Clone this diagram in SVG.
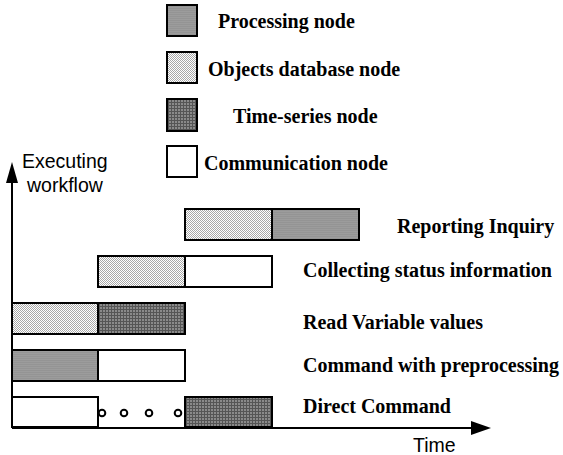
<svg xmlns="http://www.w3.org/2000/svg" width="563" height="455" viewBox="0 0 563 455">
<style>
.box{stroke:#000;stroke-width:2}
.proc{fill:url(#pProc)}
.odb{fill:url(#pOdb)}
.ts{fill:url(#pTs)}
.comm{fill:#fff}
.lbl{font-family:"Liberation Serif","Times New Roman",serif;font-weight:bold;font-size:20px;fill:#000}
.ax{font-family:"Liberation Sans",Arial,sans-serif;font-size:19.5px;fill:#000}
.axis{stroke:#000;stroke-width:2;fill:none}
.dot{fill:#fff;stroke:#000;stroke-width:2}
</style>
<defs>
<pattern id="pProc" width="2" height="2" patternUnits="userSpaceOnUse">
<rect width="2" height="2" fill="#9c9c9c"/>
<rect width="2" height="1" fill="#949494"/>
</pattern>
<pattern id="pOdb" width="2" height="2" patternUnits="userSpaceOnUse">
<rect width="2" height="2" fill="#ffffff"/>
<rect width="1" height="1" fill="#a8a8a8"/>
<rect x="1" y="1" width="1" height="1" fill="#a8a8a8"/>
</pattern>
<pattern id="pTs" width="3" height="3" patternUnits="userSpaceOnUse">
<rect width="3" height="3" fill="#8a8a8a"/>
<rect width="3" height="1" fill="#555"/>
<rect width="1" height="3" fill="#555"/>
</pattern>
</defs>

<g id="legend">
<g id="legend-processing"><rect class="box proc" x="167" y="5" width="30" height="31"/><text class="lbl" x="218" y="28">Processing node</text></g>
<g id="legend-objects"><rect class="box odb" x="167" y="52" width="30" height="31"/><text class="lbl" x="208" y="76">Objects database node</text></g>
<g id="legend-timeseries"><rect class="box ts" x="167" y="99" width="30" height="32"/><text class="lbl" x="233" y="123">Time-series node</text></g>
<g id="legend-communication"><rect class="box comm" x="167" y="146" width="30" height="31"/><text class="lbl" x="204" y="170">Communication node</text></g>
</g>

<g id="connectors">
<path class="axis" d="M12,428 V182"/>
<path d="M6,183 L12,162 L18,183 Z" fill="#000"/>
<path class="axis" d="M12,428 H472"/>
<path d="M471,421 L491,428 L471,435 Z" fill="#000"/>
</g>

<g id="axis-labels">
<text class="ax" x="22" y="168">Executing</text>
<text class="ax" x="27" y="192">workflow</text>
<text class="ax" x="413" y="452">Time</text>
</g>

<g id="row-reporting">
<rect class="box odb" x="185" y="209" width="87" height="31"/>
<rect class="box proc" x="272" y="209" width="87" height="31"/>
<text class="lbl" x="397" y="233">Reporting Inquiry</text>
</g>
<g id="row-collecting">
<rect class="box odb" x="98" y="256" width="87" height="31"/>
<rect class="box comm" x="185" y="256" width="87" height="31"/>
<text class="lbl" x="303" y="277">Collecting status information</text>
</g>
<g id="row-read">
<rect class="box odb" x="12" y="303" width="86" height="31"/>
<rect class="box ts" x="98" y="303" width="87" height="31"/>
<text class="lbl" x="303" y="329">Read Variable values</text>
</g>
<g id="row-command-pre">
<rect class="box proc" x="12" y="350" width="86" height="31"/>
<rect class="box comm" x="98" y="350" width="87" height="31"/>
<text class="lbl" x="303" y="372">Command with preprocessing</text>
</g>
<g id="row-direct">
<rect class="box comm" x="12" y="397" width="86" height="30"/>
<circle class="dot" cx="102" cy="413" r="3.3"/>
<circle class="dot" cx="124" cy="413" r="3.3"/>
<circle class="dot" cx="149" cy="413" r="3.3"/>
<circle class="dot" cx="178" cy="413" r="3.3"/>
<rect class="box ts" x="185" y="397" width="87" height="30"/>
<text class="lbl" x="303" y="413">Direct Command</text>
</g>
</svg>
